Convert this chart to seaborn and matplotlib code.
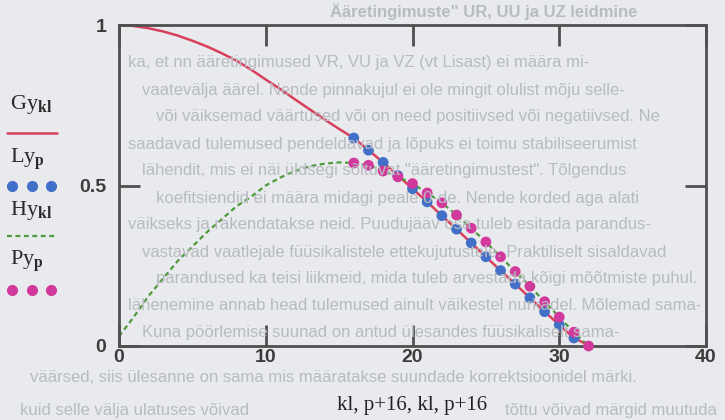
import pandas as pd
import seaborn as sns
import matplotlib.pyplot as plt
from matplotlib.lines import Line2D

# Gy_kl (red line)
gy_x = [0, 1, 2, 3, 4, 5, 6, 7, 8, 9, 10, 11, 12, 13, 14, 15, 16, 17, 18, 19,
        20, 21, 22, 23, 24, 25, 26, 27, 28, 29, 30, 31, 32.1]
gy_y = [1.0, 0.997, 0.99, 0.98, 0.967, 0.951, 0.933, 0.912, 0.889, 0.861, 0.83,
        0.80, 0.768, 0.737, 0.706, 0.676, 0.648, 0.61, 0.572, 0.531, 0.49, 0.449,
        0.406, 0.364, 0.321, 0.278, 0.235, 0.193, 0.15, 0.107, 0.066, 0.025, 0.0]

# Hy_kl (green dashed)
hy_x = [0, 1, 2, 3, 4, 5, 6, 7, 8, 9, 10, 11, 12, 13, 14, 15, 16, 17, 18, 19,
        20, 21, 22, 23, 24, 25, 26, 27, 28, 29, 30, 31, 32]
hy_y = [0.03, 0.09, 0.155, 0.21, 0.265, 0.31, 0.355, 0.395, 0.435, 0.465, 0.50,
        0.525, 0.545, 0.56, 0.568, 0.572, 0.57, 0.563, 0.545, 0.527, 0.506, 0.477,
        0.446, 0.408, 0.367, 0.324, 0.278, 0.232, 0.186, 0.138, 0.09, 0.043, 0.0]

# Ly_p (blue dots)
ly_x = [16, 17, 18, 19, 20, 21, 22, 23, 24, 25, 26, 27, 28, 29, 30, 31]
ly_y = [0.648, 0.61, 0.572, 0.531, 0.49, 0.449, 0.406, 0.364, 0.321, 0.278,
        0.235, 0.193, 0.15, 0.107, 0.066, 0.025]

# Py_p (pink dots)
py_x = [16, 17, 18, 19, 20, 21, 22, 23, 24, 25, 26, 27, 28, 29, 30, 31, 32]
py_y = [0.57, 0.563, 0.545, 0.527, 0.506, 0.477, 0.446, 0.408, 0.367, 0.324,
        0.278, 0.232, 0.186, 0.138, 0.09, 0.043, 0.0]

x_ticks = [0, 10, 20, 30, 40]
y_ticks = [0, 0.5, 1]
y_ticklabels = ["0", "0.5", "1"]

# faint page text showing through the scanned figure
page_title = "Ääretingimuste\" UR, UU ja UZ leidmine"
page_lines = [
    "ka, et nn ääretingimused VR, VU ja VZ (vt Lisast) ei määra mi-",
    "vaatevälja äärel. Nende pinnakujul ei ole mingit olulist mõju selle-",
    "või väiksemad väärtused või on need positiivsed või negatiivsed. Ne",
    "saadavad tulemused pendeldavad ja lõpuks ei toimu stabiliseerumist",
    "lähendit, mis ei näi üldsegi sõltuvat \"ääretingimustest\". Tõlgendus",
    "koefitsiendid ei määra midagi peale 0-de. Nende korded aga alati",
    "väikseks ja rakendatakse neid. Puudujääv osa tuleb esitada parandus-",
    "vastavad vaatlejale füüsikalistele ettekujutustele. Praktiliselt sisaldavad",
    "parandused ka teisi liikmeid, mida tuleb arvestada kõigi mõõtmiste puhul.",
    "lähenemine annab head tulemused ainult väikestel nurkadel. Mõlemad sama-",
    "Kuna pöörlemise suunad on antud ülesandes füüsikaliselt sama-",
]
page_low = "väärsed, siis ülesanne on sama mis määratakse suundade korrektsioonidel märki."
page_last = ["kuid selle välja ulatuses võivad", "tõttu võivad märgid muutuda"]

RED = "#d9405c"
GREEN = "#4e9a3c"
BLUE = "#4270c8"
PINK = "#d2399c"
AXC = "#505050"
BG = "#e8eaed"
PAGE = "#b8bbbf"

sns.set_style("white")
plt.rcParams["font.family"] = ["Liberation Sans", "DejaVu Sans"]
plt.rcParams["mathtext.fontset"] = "custom"
plt.rcParams["mathtext.rm"] = "Liberation Serif"
plt.rcParams["mathtext.bf"] = "Liberation Serif:bold"

W, H = 725, 420
fig = plt.figure(figsize=(W / 100, H / 100), dpi=100, facecolor=BG)


def fx(px):
    return px / W


def fy(py):
    return 1 - py / H


page_font = dict(fontsize=12, color=PAGE, va="center", zorder=0)
fig.text(fx(330), fy(12), page_title, weight="bold", ha="left", **page_font)
for i, line in enumerate(page_lines):
    fig.text(fx(128 + 14 * (i % 3)), fy(63 + 27 * i), line, ha="left", **page_font)
fig.text(fx(30), fy(378), page_low, ha="left", **page_font)
fig.text(fx(20), fy(411), page_last[0], ha="left", **page_font)
fig.text(fx(505), fy(411), page_last[1], ha="left", **page_font)

ax = fig.add_axes([119 / W, 1 - 346 / H, (706 - 119) / W, (346 - 25) / H])
ax.set_facecolor("none")

df_gy = pd.DataFrame({"x": gy_x, "y": gy_y})
df_hy = pd.DataFrame({"x": hy_x, "y": hy_y})
df_ly = pd.DataFrame({"x": ly_x, "y": ly_y})
df_py = pd.DataFrame({"x": py_x, "y": py_y})

sns.lineplot(data=df_gy, x="x", y="y", ax=ax, color=RED, lw=1.8, zorder=2)
sns.lineplot(data=df_hy, x="x", y="y", ax=ax, color=GREEN, lw=1.6,
             linestyle=(0, (2.2, 1.6)), zorder=2)
sns.scatterplot(data=df_ly, x="x", y="y", ax=ax, color=BLUE, s=60,
                edgecolor="none", zorder=3, clip_on=False)
sns.scatterplot(data=df_py, x="x", y="y", ax=ax, color=PINK, s=60,
                edgecolor="none", zorder=4, clip_on=False)

ax.set_xlim(0, 40)
ax.set_ylim(0, 1)
ax.set_xticks(x_ticks)
ax.set_xticklabels([str(t) for t in x_ticks])
ax.set_yticks(y_ticks)
ax.set_yticklabels(y_ticklabels)
ax.tick_params(axis="both", direction="in", length=15, width=2, color=AXC,
               labelcolor="#3c3c3c", labelsize=14, top=True, right=True,
               bottom=True, left=True)
ax.tick_params(axis="x", pad=2)
ax.tick_params(axis="y", pad=9)
for lab in ax.get_xticklabels() + ax.get_yticklabels():
    lab.set_fontweight("bold")
for sp in ax.spines.values():
    sp.set_color(AXC)
    sp.set_linewidth(2)
ax.set_xlabel("kl, p+16, kl, p+16", family="Liberation Serif", fontsize=15,
              color="#222222", labelpad=22)
ax.set_ylabel("")

# legend at the left side
leg_font = dict(family="Liberation Serif", fontsize=16, color="#2a2a2a",
                ha="left", va="center")
fig.text(fx(10), fy(105), r"Gy$_\mathbf{kl}$", **leg_font)
fig.add_artist(Line2D([fx(7), fx(57)], [fy(133), fy(133)], color=RED, lw=1.8))
fig.text(fx(10), fy(160), r"Ly$_\mathbf{p}$", **leg_font)
fig.add_artist(Line2D([fx(12), fx(32), fx(51)], [fy(186)] * 3, color=BLUE,
                      lw=0, marker="o", markersize=8, markeredgewidth=0))
fig.text(fx(10), fy(210), r"Hy$_\mathbf{kl}$", **leg_font)
fig.add_artist(Line2D([fx(7), fx(57)], [fy(236), fy(236)], color=GREEN, lw=1.6,
                      linestyle=(0, (2.2, 1.6))))
fig.text(fx(10), fy(262), r"Py$_\mathbf{p}$", **leg_font)
fig.add_artist(Line2D([fx(12), fx(32), fx(51)], [fy(290)] * 3, color=PINK,
                      lw=0, marker="o", markersize=8, markeredgewidth=0))

fig.savefig("out.png", dpi=100, facecolor=BG)
